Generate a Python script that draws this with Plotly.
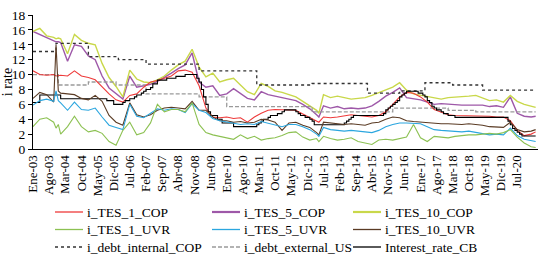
import pandas as pd
import plotly.graph_objects as go

# ---------------- data ----------------
dates = (["2003-01", "2003-04", "2003-07", "2003-10", "2003-11", "2003-12"]
         + [f"{y}-{m}" for y in range(2004, 2013) for m in ("01", "04", "07", "10")]
         + ["2013-01", "2013-04", "2013-05", "2013-07", "2013-10"]
         + [f"{y}-{m}" for y in range(2014, 2021) for m in ("01", "04", "07", "10")]
         + ["2021-01", "2021-03"])

tes_10_cop = [15.8, 16.2, 15.2, 15.0, 14.8, 14.9,
              14.8, 12.8, 15.4, 14.6,
              14.2, 14.0, 11.5, 9.6,
              8.4, 7.0, 10.6, 9.4,
              9.0, 8.9, 9.3, 9.8,
              10.6, 11.3, 11.8, 13.4,
              11.0, 9.7, 10.2, 9.0,
              9.3, 9.5, 8.6, 7.7,
              7.3, 8.8, 8.4, 7.8,
              7.6, 7.3, 7.0, 6.4,
              5.8, 5.2, 4.8, 7.3, 6.9,
              7.1, 6.9, 6.7, 6.8,
              6.9, 7.2, 7.6, 8.0,
              8.3, 8.9, 7.9, 7.4,
              7.2, 7.0, 6.8, 6.7,
              6.9, 7.0, 7.0, 7.1,
              7.2, 6.8, 6.5, 6.6,
              6.3, 7.2, 6.4, 6.0,
              5.8, 5.6]

tes_5_cop = [15.8, 15.4, 15.0, 14.6, 14.4, 14.4,
             14.3, 11.8, 14.0, 13.8,
             12.5, 12.0, 9.8, 8.2,
             7.4, 6.7, 9.8, 8.3,
             8.5, 8.7, 9.1, 9.6,
             10.2, 10.8, 11.3, 12.9,
             9.0, 8.3, 8.5, 7.2,
             7.4, 8.1, 7.5, 6.8,
             6.6, 7.7, 7.3, 7.1,
             6.9, 6.7, 6.5, 6.0,
             5.4, 4.6, 4.3, 5.8, 5.5,
             5.7, 5.4, 5.5, 5.4,
             5.5, 5.8, 6.4, 7.1,
             7.6, 8.2, 6.9, 6.7,
             6.6, 6.3, 6.0, 6.1,
             6.0, 5.9, 5.9, 5.9,
             5.9, 5.9, 5.7, 5.8,
             5.6, 7.0, 4.8, 4.4,
             4.3, 4.4]

tes_1_cop = [10.5, 10.0, 9.9, 10.0, 9.8, 9.9,
             9.9, 9.8, 10.5, 9.8,
             9.6, 9.3, 8.3, 7.4,
             6.6, 6.3, 7.2, 7.4,
             8.3, 9.0, 9.2, 9.5,
             9.8, 10.5, 10.6, 10.3,
             8.5, 5.5, 4.3, 4.2,
             4.3, 4.1, 4.2, 3.6,
             4.3, 4.8, 5.2, 5.3,
             5.3, 5.2, 5.2, 4.7,
             4.2, 3.7, 3.6, 4.3, 4.2,
             4.3, 4.4, 4.6, 4.5,
             4.4, 4.3, 4.5, 5.0,
             6.0, 7.0, 7.6, 7.5,
             7.0, 6.3, 5.3, 4.9,
             4.6, 4.5, 4.5, 4.5,
             4.5, 4.4, 4.4, 4.3,
             4.3, 3.8, 2.5, 1.8,
             2.0, 2.3]

tes_10_uvr = [6.8, 7.6, 7.3, 6.3, 14.0, 7.8,
              7.5, 7.4, 7.3, 6.8,
              6.6, 7.2, 6.4, 4.5,
              3.6, 3.2, 6.2, 4.6,
              4.3, 4.6, 5.2, 5.5,
              5.6, 5.5, 5.4, 6.4,
              5.2, 5.2, 4.3, 3.8,
              3.8, 3.6, 3.7, 3.5,
              3.6, 4.0, 3.9, 3.6,
              2.5, 3.5, 3.6, 3.2,
              2.9, 2.2, 1.9, 3.6, 3.5,
              3.3, 3.3, 3.4, 3.3,
              3.2, 3.5, 3.6, 4.0,
              4.3, 4.2, 3.8, 3.7,
              3.6, 3.5, 3.4, 3.4,
              3.4, 3.3, 3.3, 3.4,
              3.3, 3.2, 3.0, 3.0,
              2.9, 3.6, 2.6, 2.3,
              2.4, 2.6]

tes_5_uvr = [5.9, 6.5, 6.7, 6.4, 7.8, 6.5,
             6.2, 5.2, 6.3, 5.3,
             5.2, 5.5, 4.3, 3.2,
             2.9, 2.6, 6.0, 4.4,
             4.2, 4.8, 5.4, 5.2,
             5.4, 5.3, 4.9, 6.1,
             5.2, 4.9, 4.1, 3.8,
             3.6, 3.4, 3.3, 3.4,
             3.3, 3.7, 3.5, 3.3,
             3.0, 3.3, 3.3, 3.0,
             2.6, 2.0, 1.7, 2.9, 2.6,
             2.5, 2.4, 2.5, 2.4,
             2.2, 2.2, 2.5, 3.0,
             3.3, 3.5, 3.5, 3.5,
             3.4, 3.0, 2.6, 2.5,
             2.4, 2.3, 2.3, 2.4,
             2.2, 2.1, 1.9, 2.0,
             1.9, 2.8, 1.8, 1.3,
             1.1, 1.0]

tes_1_uvr = [3.0, 4.0, 4.2, 3.6, 2.8, 3.3,
             2.0, 3.0, 4.4, 3.0,
             2.3, 2.5, 2.1, 1.0,
             0.5, 2.5, 3.6, 1.9,
             2.2, 3.5, 6.0, 5.0,
             5.3, 5.3, 5.0, 6.2,
             3.3, 2.2, 1.9, 1.7,
             1.5, 1.3, 1.9, 1.4,
             1.7, 1.2, 1.4, 1.5,
             1.8, 2.2, 2.3, 1.6,
             1.2, 1.4, 1.0, 1.7, 1.4,
             1.2, 1.3, 1.5, 1.0,
             0.8, 0.6, 1.2, 1.3,
             1.2, 1.4, 1.6, 3.3,
             1.5, 1.0, 1.7, 1.6,
             1.5, 1.7, 1.8, 1.9,
             1.9, 2.0, 2.1, 2.0,
             2.2, 2.6, 1.6, 0.8,
             0.3, 0.2]

debt_int_dates = ["2003-01", "2003-11", "2005-01", "2006-02", "2007-02", "2009-01", "2011-02",
                  "2013-02", "2015-02", "2016-04", "2017-03", "2018-03", "2019-04", "2021-03"]
debt_int_vals = [13.1, 14.2, 12.4, 12.0, 11.4, 10.5, 8.6, 8.8, 7.5, 7.8, 8.9, 8.6, 7.9, 7.9]

debt_ext_dates = ["2003-01", "2003-12", "2005-01", "2006-01", "2007-02", "2009-01", "2010-01",
                  "2013-02", "2016-01", "2018-01", "2019-01", "2021-03"]
debt_ext_vals = [10.0, 8.6, 9.0, 8.6, 7.4, 7.0, 5.7, 5.0, 5.5, 5.2, 5.0, 5.0]

cb_dates = ["2003-01", "2003-04", "2004-01", "2005-09", "2005-12", "2006-04", "2006-05", "2006-07",
            "2006-09", "2006-10", "2006-12", "2007-01", "2007-02", "2007-04", "2007-05", "2007-07",
            "2007-11", "2008-03", "2008-07", "2008-12", "2009-01", "2009-02", "2009-03", "2009-04",
            "2009-05", "2009-06", "2009-09", "2009-11", "2010-04", "2011-02", "2011-03", "2011-04",
            "2011-05", "2011-07", "2011-08", "2011-11", "2012-01", "2012-02", "2012-07", "2012-08",
            "2012-09", "2012-11", "2013-01", "2013-02", "2013-03", "2014-04", "2014-05", "2014-06",
            "2014-07", "2014-08", "2015-09", "2015-10", "2015-11", "2015-12", "2016-01", "2016-02",
            "2016-03", "2016-04", "2016-05", "2016-06", "2016-07", "2016-12", "2017-02", "2017-03",
            "2017-04", "2017-05", "2017-06", "2017-07", "2017-08", "2017-10", "2017-11", "2018-01",
            "2018-04", "2020-03", "2020-04", "2020-05", "2020-06", "2020-07", "2020-08", "2020-09",
            "2021-03"]
cb_vals = [6.25, 7.25, 6.75, 6.5, 6.0, 6.25, 6.5, 6.75,
           7.0, 7.25, 7.5, 7.75, 8.0, 8.25, 8.75, 9.25,
           9.5, 9.75, 10.0, 9.5, 9.0, 8.0, 7.0, 6.0,
           5.0, 4.5, 4.0, 3.5, 3.0, 3.25, 3.5, 3.75,
           4.0, 4.25, 4.5, 4.75, 5.0, 5.25, 5.0, 4.75,
           4.5, 4.25, 4.0, 3.75, 3.25, 3.5, 3.75, 4.0,
           4.25, 4.5, 4.75, 5.25, 5.5, 5.75, 6.0, 6.25,
           6.5, 7.0, 7.25, 7.5, 7.75, 7.5, 7.25, 7.0,
           6.5, 6.25, 5.75, 5.5, 5.25, 5.0, 4.75, 4.5,
           4.25, 3.75, 3.25, 2.75, 2.5, 2.25, 2.0, 1.75,
           1.75]

tick_labels = ["Ene-03", "Ago-03", "Mar-04", "Oct-04", "May-05", "Dic-05", "Jul-06", "Feb-07",
               "Sep-07", "Abr-08", "Nov-08", "Jun-09", "Ene-10", "Ago-10", "Mar-11", "Oct-11",
               "May-12", "Dic-12", "Jul-13", "Feb-14", "Sep-14", "Abr-15", "Nov-15", "Jun-16",
               "Ene-17", "Ago-17", "Mar-18", "Oct-18", "May-19", "Dic-19", "Jul-20"]

# ---------------- figure ----------------
FONT = "Liberation Serif"
W, H = 542, 257
ML, MR, MT, MB = 33, 4, 15, 108
PW, PH = W - ML - MR, H - MT - MB
d = pd.to_datetime(dates)

# (name, x, y, colour, width, dash, shape, legend column, legend row)
series = [
    ("i_TES_1_COP", d, tes_1_cop, "#ee3a3a", 1.1, "solid", "linear", 0, 0),
    ("i_TES_1_UVR", d, tes_1_uvr, "#8cc152", 1.1, "solid", "linear", 0, 1),
    ("i_debt_internal_COP", pd.to_datetime(debt_int_dates), debt_int_vals, "#333333", 1.3, "dot", "hv", 0, 2),
    ("i_TES_5_COP", d, tes_5_cop, "#9e58a8", 1.4, "solid", "linear", 1, 0),
    ("i_TES_5_UVR", d, tes_5_uvr, "#2ba6df", 1.1, "solid", "linear", 1, 1),
    ("i_debt_external_US", pd.to_datetime(debt_ext_dates), debt_ext_vals, "#9a9a9a", 1.3, "4px,2px", "hv", 1, 2),
    ("i_TES_10_COP", d, tes_10_cop, "#c9d84a", 1.4, "solid", "linear", 2, 0),
    ("i_TES_10_UVR", d, tes_10_uvr, "#5a3b24", 1.1, "solid", "linear", 2, 1),
    ("Interest_rate_CB", pd.to_datetime(cb_dates), cb_vals, "#000000", 1.1, "solid", "hv", 2, 2),
]
draw_order = [3, 6, 2, 5, 0, 8, 7, 4, 1]

fig = go.Figure()
for i in draw_order:
    name, x, y, col, w, dash, shape, _, _ = series[i]
    fig.add_trace(go.Scatter(x=x, y=y, name=name, mode="lines", showlegend=False,
                             line=dict(color=col, width=w, dash=dash, shape=shape)))

# legend: 3 columns x 3 rows below the plot (pixel layout of the reference)
col_line_x = [55, 212, 353]
row_y = [212, 229.5, 247]
def px_x(p):
    return (p - ML) / PW
def px_y(p):
    return (H - MB - p) / PH
shapes, annots = [], []
for name, x, y, col, w, dash, shape, c, r in series:
    x0 = col_line_x[c]
    lw = 2.2 if name in ("i_TES_5_COP", "i_TES_10_COP") else 1.3
    shapes.append(dict(type="line", xref="paper", yref="paper",
                       x0=px_x(x0), x1=px_x(x0 + 28), y0=px_y(row_y[r]), y1=px_y(row_y[r]),
                       line=dict(color=col, width=lw, dash=dash)))
    annots.append(dict(xref="paper", yref="paper", x=px_x(x0 + 30), y=px_y(row_y[r]),
                       xanchor="left", yanchor="middle", text=name, showarrow=False,
                       font=dict(family=FONT, size=13.5, color="black")))

tickvals = pd.date_range("2003-01-01", periods=len(tick_labels), freq="7MS")

fig.update_layout(
    width=W, height=H,
    margin=dict(l=ML, r=MR, t=MT, b=MB, autoexpand=False),
    paper_bgcolor="white", plot_bgcolor="white",
    font=dict(family=FONT, size=13, color="black"),
    showlegend=False,
    shapes=shapes, annotations=annots,
    xaxis=dict(type="date", range=["2003-01-01", "2021-04-01"],
               tickvals=tickvals, ticktext=tick_labels, tickangle=-90,
               tickfont=dict(family=FONT, size=13, color="black"),
               showline=True, linecolor="black", linewidth=1,
               ticks="", showgrid=False, zeroline=False, automargin=False),
    yaxis=dict(range=[0, 18], tickvals=list(range(0, 19, 2)),
               tickfont=dict(family=FONT, size=13.5, color="black"),
               showline=True, linecolor="black", linewidth=1,
               ticks="outside", ticklen=4, tickcolor="black",
               showgrid=False, zeroline=False, automargin=False,
               title=dict(text="i rate", font=dict(family=FONT, size=14), standoff=1)),
)

fig.write_html("out.html",
               config={"displayModeBar": False, "staticPlot": True},
               post_script="document.body.style.margin='0';document.body.style.overflow='hidden';")
